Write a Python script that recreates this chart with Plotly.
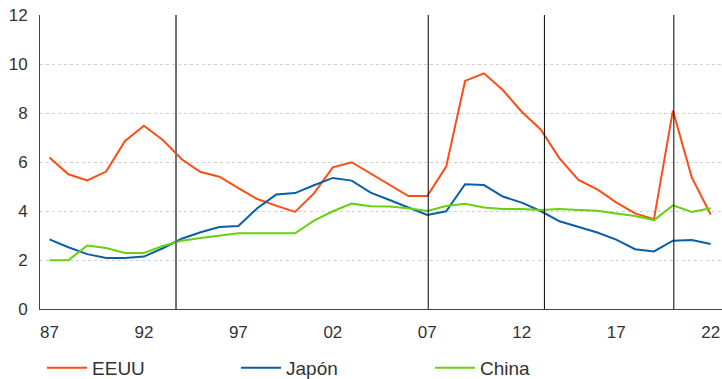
import plotly.graph_objects as go

years = list(range(1987, 2023))

eeuu = [6.18, 5.50, 5.25, 5.61, 6.86, 7.48, 6.90, 6.11, 5.59, 5.40,
        4.93, 4.49, 4.22, 3.96, 4.72, 5.78, 5.99, 5.52, 5.07, 4.61,
        4.61, 5.81, 9.31, 9.62, 8.94, 8.05, 7.33, 6.15, 5.27, 4.88,
        4.35, 3.90, 3.67, 8.10, 5.37, 3.86]

japon = [2.84, 2.52, 2.24, 2.08, 2.08, 2.14, 2.48, 2.87, 3.13, 3.35,
         3.39, 4.11, 4.67, 4.73, 5.05, 5.35, 5.24, 4.75, 4.45, 4.14,
         3.84, 3.99, 5.09, 5.06, 4.59, 4.34, 4.00, 3.58, 3.36, 3.12,
         2.83, 2.44, 2.35, 2.79, 2.82, 2.65]

china = [1.99, 1.99, 2.59, 2.49, 2.29, 2.29, 2.57, 2.79, 2.90, 2.99,
         3.09, 3.09, 3.09, 3.09, 3.61, 3.99, 4.30, 4.19, 4.18, 4.11,
         4.00, 4.20, 4.30, 4.14, 4.08, 4.08, 4.04, 4.08, 4.04, 4.01,
         3.90, 3.80, 3.63, 4.23, 3.96, 4.11]

break_years = [1993.7, 2007.05, 2013.2, 2020.05]

tick_years = [1987, 1992, 1997, 2002, 2007, 2012, 2017, 2022]
tick_text = ["87", "92", "97", "02", "07", "12", "17", "22"]

FONT = "Liberation Sans, Arial, sans-serif"
TEXT = "#333333"

fig = go.Figure()
fig.add_trace(go.Scatter(x=years, y=eeuu, name="EEUU", mode="lines",
                         line=dict(color="#ff4b14", width=2)))
fig.add_trace(go.Scatter(x=years, y=japon, name="Japón", mode="lines",
                         line=dict(color="#0a5fa5", width=2)))
fig.add_trace(go.Scatter(x=years, y=china, name="China", mode="lines",
                         line=dict(color="#66d10f", width=2)))

for i, yr in enumerate(break_years):
    fig.add_shape(type="line", xref="x", yref="y", x0=yr, x1=yr, y0=0, y1=12,
                  line=dict(color="#707070" if i == 0 else "#000000",
                            width=2 if i == 0 else 1),
                  layer="above")

fig.update_layout(
    width=722, height=379,
    margin=dict(l=40, r=0, t=15, b=70, autoexpand=False),
    paper_bgcolor="white", plot_bgcolor="white",
    font=dict(family=FONT, size=17, color=TEXT),
    showlegend=True,
    legend=dict(orientation="h", x=0.003, xanchor="left", y=-0.2, yanchor="middle",
                font=dict(size=19, color=TEXT), entrywidth=139,
                entrywidthmode="pixels", itemwidth=40, tracegroupgap=0),
    xaxis=dict(range=[1986.5, 2022.6], tickvals=tick_years, ticktext=tick_text,
               showgrid=False, zeroline=False, showline=True,
               linecolor="#444444", linewidth=1, ticks="",
               ticklabelstandoff=8, tickfont=dict(size=17, color=TEXT)),
    yaxis=dict(range=[0, 12], dtick=2, showgrid=True, gridcolor="#d0d0d0",
               griddash="dot", gridwidth=1, zeroline=False, showline=True,
               linecolor="#444444", linewidth=1, ticks="",
               ticklabelstandoff=8, tickfont=dict(size=17, color=TEXT)),
)

fig.write_html("out.html")
